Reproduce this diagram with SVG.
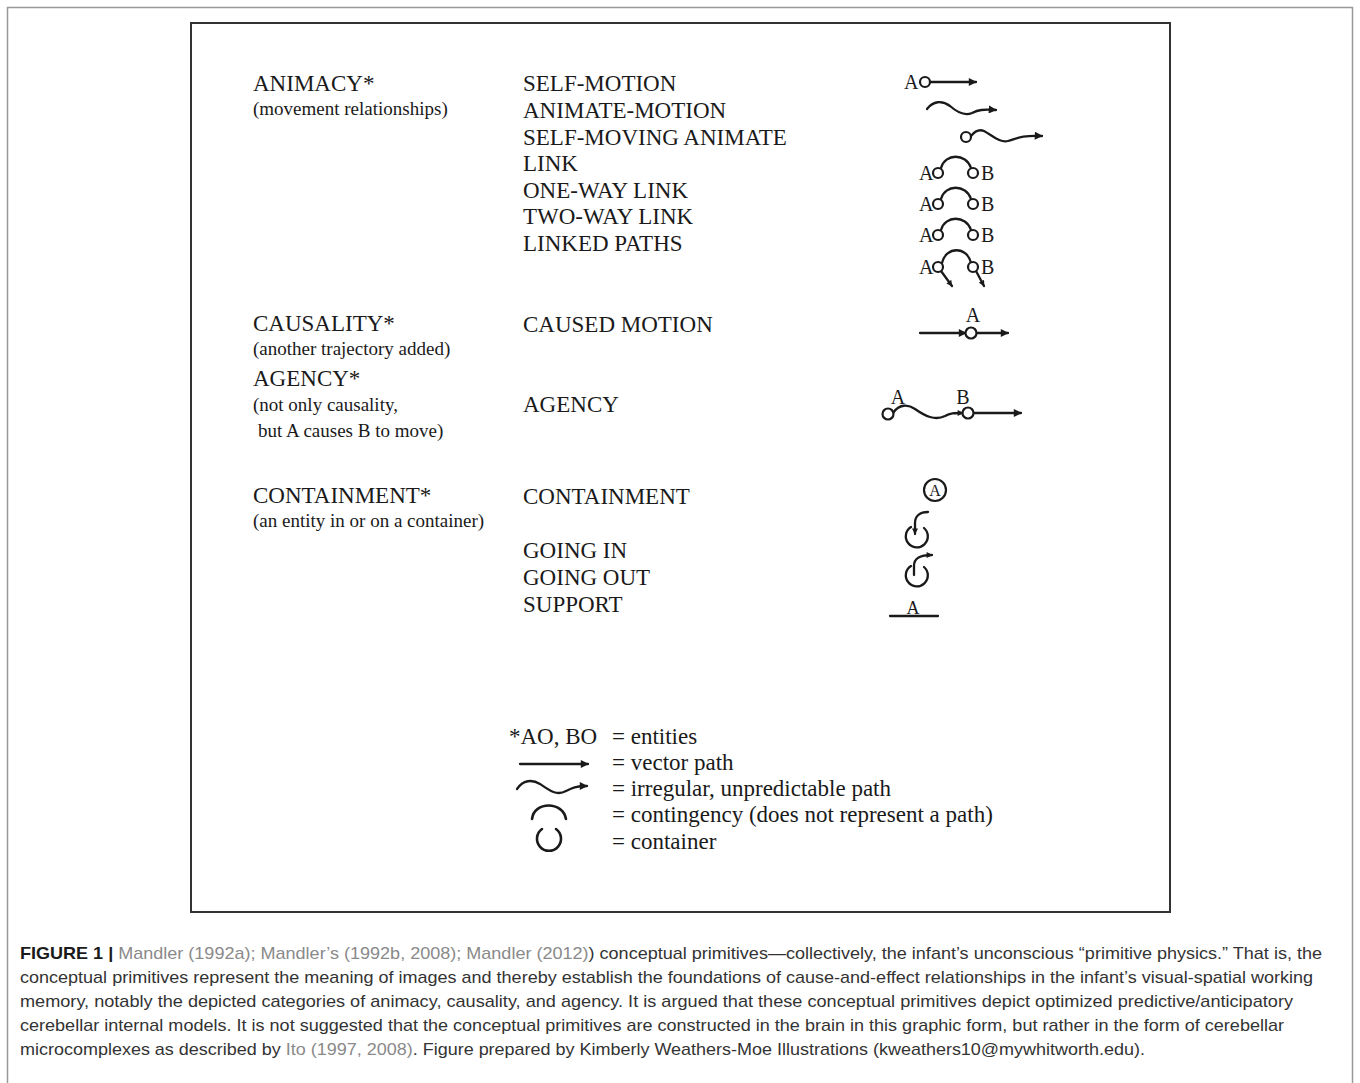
<svg xmlns="http://www.w3.org/2000/svg" width="1360" height="1083" viewBox="0 0 1360 1083">
<style>
.t{font-family:"Liberation Serif","Times New Roman",serif;font-size:23px;fill:#1a1a1a}
.s{font-family:"Liberation Serif","Times New Roman",serif;font-size:19px;fill:#1a1a1a}
.l{font-family:"Liberation Serif","Times New Roman",serif;font-size:20px;fill:#1a1a1a}
.ln{fill:none;stroke:#1a1a1a;stroke-width:2.3;stroke-linecap:round}
.ci{fill:#fff;stroke:#1a1a1a;stroke-width:2.2}
.cap{font-family:"Liberation Sans",Arial,sans-serif;font-size:17px;fill:#333}
.g{fill:#8a8a8a}
</style>
<defs>
<marker id="ah" viewBox="0 0 10 10" refX="9" refY="5" markerWidth="10" markerHeight="8" markerUnits="userSpaceOnUse" orient="auto">
<path d="M0,0 L10,5 L0,10 z" fill="#1a1a1a"/>
</marker>
<marker id="ahs" viewBox="0 0 10 10" refX="9" refY="5" markerWidth="7" markerHeight="6" markerUnits="userSpaceOnUse" orient="auto">
<path d="M0,0 L10,5 L0,10 z" fill="#1a1a1a"/>
</marker>
</defs>
<rect width="1360" height="1083" fill="#fff"/>
<rect x="7.5" y="7.5" width="1345" height="1100" fill="none" stroke="#999" stroke-width="1.5"/>
<rect x="191" y="23" width="979" height="889" fill="none" stroke="#333" stroke-width="2"/>

<g id="cat-animacy">
<text class="t" x="253" y="91">ANIMACY*</text>
<text class="s" x="253" y="115">(movement relationships)</text>
</g>
<g id="cat-causality">
<text class="t" x="253" y="331">CAUSALITY*</text>
<text class="s" x="253" y="355">(another trajectory added)</text>
</g>
<g id="cat-agency">
<text class="t" x="253" y="386">AGENCY*</text>
<text class="s" x="253" y="411">(not only causality,</text>
<text class="s" x="258" y="437">but A causes B to move)</text>
</g>
<g id="cat-containment">
<text class="t" x="253" y="503">CONTAINMENT*</text>
<text class="s" x="253" y="527">(an entity in or on a container)</text>
</g>

<g id="self-motion">
<text class="t" x="523" y="91">SELF-MOTION</text>
<text class="l" x="904" y="89">A</text>
<line class="ln" x1="930" y1="82" x2="976" y2="82" marker-end="url(#ah)"/>
<circle class="ci" cx="925" cy="82" r="5"/>
</g>
<g id="animate-motion">
<text class="t" x="523" y="118">ANIMATE-MOTION</text>
<path class="ln" d="M927,109 C933,101 942,100 950,106 C958,113 965,116 972,113 C978,110 983,109 996,110" marker-end="url(#ah)"/>
</g>
<g id="self-moving-animate">
<text class="t" x="523" y="145">SELF-MOVING ANIMATE</text>
<path class="ln" d="M971,136 C975,131 979,129 984,131 C993,136 1000,143 1008,141 C1016,139 1020,135 1042,136" marker-end="url(#ah)"/>
<circle class="ci" cx="966" cy="137" r="5"/>
</g>
<g id="link">
<text class="t" x="523" y="171">LINK</text>
<text class="l" x="919" y="180">A</text>
<path class="ln" d="M941,168 C945,153 966,153 971,168"/>
<circle class="ci" cx="938" cy="173" r="5"/>
<circle class="ci" cx="973" cy="173" r="5"/>
<text class="l" x="981" y="180">B</text>
</g>
<g id="one-way-link">
<text class="t" x="523" y="198">ONE-WAY LINK</text>
<text class="l" x="919" y="211">A</text>
<path class="ln" d="M941,199 C945,184 966,184 971,199"/>
<circle class="ci" cx="938" cy="204" r="5"/>
<circle class="ci" cx="973" cy="204" r="5"/>
<text class="l" x="981" y="211">B</text>
</g>
<g id="two-way-link">
<text class="t" x="523" y="224">TWO-WAY LINK</text>
<text class="l" x="919" y="242">A</text>
<path class="ln" d="M941,230 C945,215 966,215 971,230"/>
<circle class="ci" cx="938" cy="235" r="5"/>
<circle class="ci" cx="973" cy="235" r="5"/>
<text class="l" x="981" y="242">B</text>
</g>
<g id="linked-paths">
<text class="t" x="523" y="251">LINKED PATHS</text>
<text class="l" x="919" y="274">A</text>
<path class="ln" d="M942,263 C946,246 967,246 971,263"/>
<path class="ln" d="M941,271 L952,286" marker-end="url(#ahs)"/>
<path class="ln" d="M976,271 L984,286" marker-end="url(#ahs)"/>
<circle class="ci" cx="938" cy="267" r="5"/>
<circle class="ci" cx="973" cy="267" r="5"/>
<text class="l" x="981" y="274">B</text>
</g>

<g id="caused-motion">
<text class="t" x="523" y="332">CAUSED MOTION</text>
<text class="l" x="973" y="322" text-anchor="middle">A</text>
<line class="ln" x1="920" y1="333" x2="966" y2="333" marker-end="url(#ah)"/>
<line class="ln" x1="976" y1="333" x2="1008" y2="333" marker-end="url(#ah)"/>
<circle class="ci" cx="971" cy="333" r="5.5"/>
</g>
<g id="agency">
<text class="t" x="523" y="412">AGENCY</text>
<text class="l" x="898" y="404" text-anchor="middle">A</text>
<text class="l" x="963" y="404" text-anchor="middle">B</text>
<path class="ln" d="M893,413 C899,404 908,404 915,409 C925,416 935,421 945,416 C950,413 954,413 963,413" marker-end="url(#ahs)"/>
<line class="ln" x1="973" y1="413" x2="1021" y2="413" marker-end="url(#ah)"/>
<circle class="ci" cx="888" cy="414" r="5.5"/>
<circle class="ci" cx="968" cy="413" r="5.5"/>
</g>

<g id="containment">
<text class="t" x="523" y="504">CONTAINMENT</text>
<circle cx="935" cy="490" r="11" fill="none" stroke="#1a1a1a" stroke-width="2.2"/>
<text class="l" x="935" y="496" text-anchor="middle" style="font-size:16px">A</text>
</g>
<g id="going-in">
<text class="t" x="523" y="558">GOING IN</text>
<path class="ln" d="M911,527 A11,11 0 1,0 924,528"/>
<path class="ln" d="M928,512 C920,512 915,516 915,523 L915,534" marker-end="url(#ahs)"/>
</g>
<g id="going-out">
<text class="t" x="523" y="585">GOING OUT</text>
<path class="ln" d="M911,566 A11,11 0 1,0 924,567"/>
<path class="ln" d="M914,575 L914,566 C914,558 920,555 932,555" marker-end="url(#ahs)"/>
</g>
<g id="support">
<text class="t" x="523" y="612">SUPPORT</text>
<text class="l" x="913" y="614" text-anchor="middle" style="font-size:18px">A</text>
<line class="ln" x1="890" y1="616" x2="938" y2="616"/>
</g>

<g id="legend">
<text class="t" x="509" y="744">*AO, BO</text>
<text class="t" x="612" y="744">= entities</text>
<line class="ln" x1="520" y1="764" x2="588" y2="764" marker-end="url(#ah)"/>
<text class="t" x="612" y="770">= vector path</text>
<path class="ln" d="M517,789 C523,780 532,779 540,784 C550,791 557,796 566,791 C572,788 576,786 587,786" marker-end="url(#ah)"/>
<text class="t" x="612" y="796">= irregular, unpredictable path</text>
<path class="ln" style="stroke-width:2.6" d="M532,819 C534,801 563,801 566,819"/>
<text class="t" x="612" y="822">= contingency (does not represent a path)</text>
<path class="ln" style="stroke-width:2.6" d="M542,829 A12,12 0 1,0 556,829"/>
<text class="t" x="612" y="849">= container</text>
</g>

<g id="caption">
<text class="cap" x="20" y="959" textLength="1302" lengthAdjust="spacingAndGlyphs"><tspan font-weight="bold" fill="#1a1a1a">FIGURE 1 | </tspan><tspan class="g">Mandler (1992a); Mandler’s (1992b, 2008); Mandler (2012)</tspan>) conceptual primitives—collectively, the infant’s unconscious “primitive physics.” That is, the</text>
<text class="cap" x="20" y="983" textLength="1293" lengthAdjust="spacingAndGlyphs">conceptual primitives represent the meaning of images and thereby establish the foundations of cause-and-effect relationships in the infant’s visual-spatial working</text>
<text class="cap" x="20" y="1007" textLength="1273" lengthAdjust="spacingAndGlyphs">memory, notably the depicted categories of animacy, causality, and agency. It is argued that these conceptual primitives depict optimized predictive/anticipatory</text>
<text class="cap" x="20" y="1031" textLength="1264" lengthAdjust="spacingAndGlyphs">cerebellar internal models. It is not suggested that the conceptual primitives are constructed in the brain in this graphic form, but rather in the form of cerebellar</text>
<text class="cap" x="20" y="1055" textLength="1125" lengthAdjust="spacingAndGlyphs">microcomplexes as described by <tspan class="g">Ito (1997, 2008)</tspan>. Figure prepared by Kimberly Weathers-Moe Illustrations (kweathers10@mywhitworth.edu).</text>
</g>
</svg>
